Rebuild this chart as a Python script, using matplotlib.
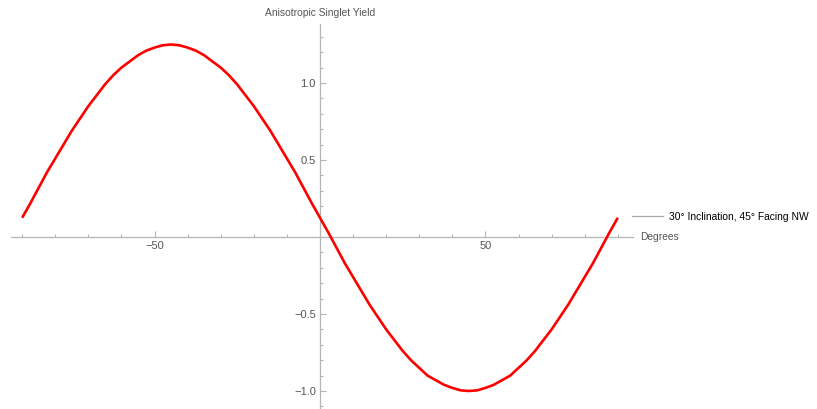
#!/usr/bin/env python3
"""Anisotropic singlet yield vs. degrees, Mathematica-style axes."""
import matplotlib

matplotlib.use("Agg")
import matplotlib.pyplot as plt
from matplotlib.lines import Line2D
from matplotlib.ticker import FixedLocator, FuncFormatter

plt.rcParams["font.family"] = ["Liberation Sans", "DejaVu Sans"]

# values, every 2.5 degrees
DEGREES = [-90 + 2.5 * i for i in range(73)]
YIELD = [
    0.125, 0.22, 0.32, 0.42, 0.51, 0.60, 0.69, 0.77, 0.85, 0.92,
    0.99, 1.05, 1.10, 1.14, 1.18, 1.21, 1.23, 1.245, 1.25, 1.245,
    1.23, 1.21, 1.18, 1.14, 1.10, 1.05, 0.99, 0.92, 0.85, 0.77,
    0.69, 0.60, 0.51, 0.42, 0.32, 0.22, 0.125,
    0.03, -0.07, -0.17, -0.26, -0.35, -0.44, -0.52, -0.60, -0.67,
    -0.74, -0.80, -0.85, -0.90, -0.93, -0.96, -0.98, -0.996, -1.00,
    -0.996, -0.98, -0.96, -0.93, -0.90, -0.85, -0.80, -0.74, -0.67,
    -0.60, -0.52, -0.44, -0.35, -0.26, -0.17, -0.07, 0.03, 0.125,
]
SERIES_LABEL = "30° Inclination, 45° Facing NW"
X_LABEL = "Degrees"
Y_LABEL = "Anisotropic Singlet Yield"
X_MAJOR = [-50, 50]
Y_MAJOR = [-1.0, -0.5, 0.5, 1.0]

AXIS_GREY = "#b5b5b5"
LABEL_GREY = "#555555"
FS = 7.4

fig = plt.figure(figsize=(8.17, 4.09), dpi=100)
ax = fig.add_axes([0, 0, 1, 1])
ax.set_xlim(-96.7, 150.2)
ax.set_ylim(-1.117, 1.539)
ax.patch.set_visible(False)

ax.plot(DEGREES, YIELD, color="#ff0000", lw=1.9, solid_capstyle="butt", zorder=3)

for side in ("top", "right"):
    ax.spines[side].set_visible(False)
ax.spines["left"].set_position(("data", 0))
ax.spines["bottom"].set_position(("data", 0))
ax.spines["left"].set_bounds(-1.11, 1.38)
ax.spines["bottom"].set_bounds(-93.5, 94.5)
for side in ("left", "bottom"):
    ax.spines[side].set_color(AXIS_GREY)
    ax.spines[side].set_linewidth(0.9)

ax.xaxis.set_major_locator(FixedLocator(X_MAJOR))
ax.xaxis.set_minor_locator(FixedLocator([v for v in range(-90, 100, 10) if v not in (0, -50, 50)]))
ax.yaxis.set_major_locator(FixedLocator(Y_MAJOR))
ax.yaxis.set_minor_locator(FixedLocator([round(v * 0.1, 1) for v in range(-11, 14) if v not in (0, -10, -5, 5, 10)]))
ax.xaxis.set_major_formatter(FuncFormatter(lambda v, _: f"{v:.0f}".replace("-", "\u2212")))
ax.yaxis.set_major_formatter(FuncFormatter(lambda v, _: f"{v:.1f}".replace("-", "\u2212")))
ax.tick_params(which="both", direction="in", color=AXIS_GREY, width=0.8,
               labelcolor=LABEL_GREY, labelsize=FS + 0.6)
ax.tick_params(which="major", length=4.5, pad=3)
ax.tick_params(which="minor", length=2.5)

ax.text(0, 0.968, Y_LABEL, transform=ax.get_xaxis_transform(), ha="center", va="center",
        fontsize=FS, color=LABEL_GREY)
ax.text(96.7, 0, X_LABEL, ha="left", va="center", fontsize=FS, color=LABEL_GREY)

handle = Line2D([], [], color="#aaaaaa", lw=0.9)
fig.legend([handle], [SERIES_LABEL], loc="center left", bbox_to_anchor=(0.7736, 0.4694),
           frameon=False, fontsize=FS, handlelength=3.0, handletextpad=0.6,
           borderpad=0, borderaxespad=0)

fig.savefig("out.png", dpi=100)
